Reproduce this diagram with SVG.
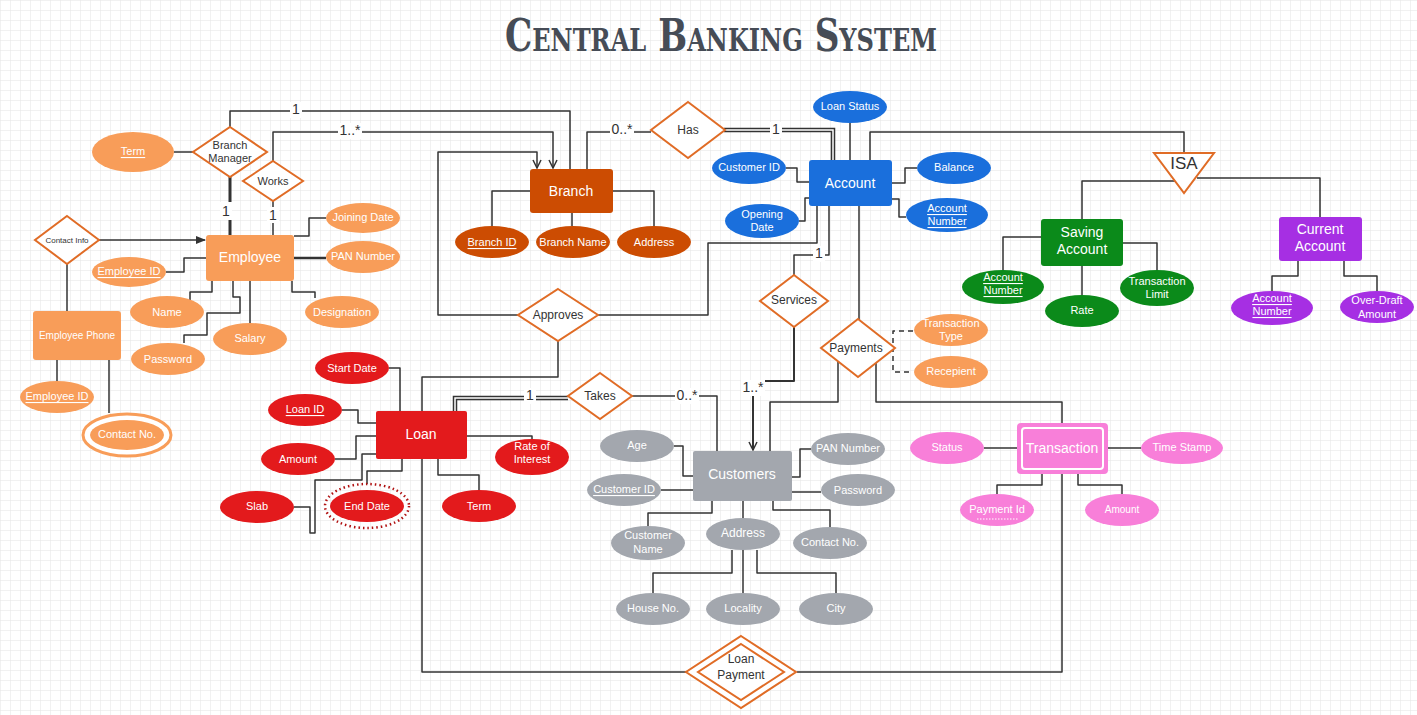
<svg xmlns="http://www.w3.org/2000/svg" width="1417" height="715" viewBox="0 0 1417 715">
<style>
.ln{fill:none;stroke:#333;stroke-width:1.5;stroke-linejoin:round}
.dbl{fill:none;stroke:#333;stroke-width:4.5}
.dbw{fill:none;stroke:#fff;stroke-width:1.5}
.rel{fill:#fff;stroke:#e06c26;stroke-width:2}
text{font-family:"Liberation Sans",Arial,sans-serif;text-anchor:middle;dominant-baseline:central}
.et{fill:#fff;font-size:14px}
.at{fill:#fff;font-size:11px}
.rt{fill:#333;font-size:12px}
.lb{fill:#333;font-size:14px}
.u{text-decoration:underline}
.emp{fill:#f89d59}
.br{fill:#cc4c02}
.ac{fill:#1a6fdc}
.sv{fill:#0b8a1a}
.cu{fill:#a62fe3}
.lo{fill:#e31a1c}
.cs{fill:#a3a7ae}
.tr{fill:#f87fd9}
.bg{fill:#fff}
</style>
<defs>
<pattern id="grid" width="10" height="10" patternUnits="userSpaceOnUse">
<path d="M10 0H0V10" fill="none" stroke="#e3e3e3" stroke-width="1"/>
</pattern>
<marker id="arr" viewBox="0 0 10 10" refX="9" refY="5" markerWidth="10" markerHeight="10" markerUnits="userSpaceOnUse" orient="auto">
<path d="M1,1 L9,5 L1,9" fill="none" stroke="#333" stroke-width="1.5"/>
</marker>
<marker id="arrf" viewBox="0 0 10 10" refX="9" refY="5" markerWidth="10" markerHeight="10" markerUnits="userSpaceOnUse" orient="auto">
<path d="M0,1 L10,5 L0,9 Z" fill="#333"/>
</marker>
</defs>
<rect width="1417" height="715" fill="#fff"/>
<rect width="1417" height="715" fill="url(#grid)"/>

<text x="721" y="35" style="font-family:'DejaVu Serif',serif;font-weight:bold;font-size:44px;font-variant:small-caps;fill:#464c56" textLength="432" lengthAdjust="spacingAndGlyphs">Central Banking System</text>

<g id="connectors">
<path class="ln" d="M174,152 H193"/>
<path class="ln" d="M230,127 V111 H570 V169"/>
<path class="ln" d="M273,161 V132 H553 V168" marker-end="url(#arr)"/>
<path class="ln" d="M518,315 H438 V152 H537 V168" marker-end="url(#arr)"/>
<path class="ln" d="M230,176 V235" style="stroke-width:3"/>
<path class="ln" d="M273,201 V235"/>
<path class="ln" d="M99,240 H205" marker-end="url(#arrf)"/>
<path class="ln" d="M67,264 V311"/>
<path class="ln" d="M166,272 H184 V258 H206"/>
<path class="ln" d="M294,236 H309 V218 H326"/>
<path class="ln" d="M294,258 H326" style="stroke-width:2.5"/>
<path class="ln" d="M190,300 V292 H212 V281"/>
<path class="ln" d="M250,323 V281"/>
<path class="ln" d="M184,343 V335 H207 V313 H240 V297 H233 V281"/>
<path class="ln" d="M292,281 V292 H315 V298"/>
<path class="ln" d="M57,360 V381"/>
<path class="ln" d="M109,360 V413"/>
<path class="ln" d="M530,191 H492 V226"/>
<path class="ln" d="M572,213 V226"/>
<path class="ln" d="M613,191 H654 V226"/>
<path class="ln" d="M587,169 V132 H651"/>
<path class="dbl" d="M724,130 H833 V160"/>
<path class="dbw" d="M724,130 H833 V160"/>
<path class="ln" d="M850,123 V160"/>
<path class="ln" d="M786,168 H797 V182 H809"/>
<path class="ln" d="M799,221 H805 V198 H809"/>
<path class="ln" d="M892,183 H905 V168 H917"/>
<path class="ln" d="M892,199 H899 V217 H906"/>
<path class="ln" d="M870,160 V132 H1184 V153"/>
<path class="ln" d="M1177,181 H1082 V219"/>
<path class="ln" d="M1197,178 H1320 V217"/>
<path class="ln" d="M1041,237 H1003 V270"/>
<path class="ln" d="M1082,266 V295"/>
<path class="ln" d="M1123,243 H1157 V270"/>
<path class="ln" d="M1298,261 V276 H1272 V291"/>
<path class="ln" d="M1344,261 V276 H1377 V291"/>
<path class="ln" d="M794,275 V255 H829 V206"/>
<path class="ln" d="M794,327 V381 H753 V450" marker-end="url(#arr)" style="stroke-width:2"/>
<path class="ln" d="M598,315 H708 V243 H817 V206"/>
<path class="ln" d="M558,341 V377 H422 V411"/>
<path class="ln" d="M422,459 V672 H686"/>
<path class="ln" d="M797,672 H1062 V474"/>
<path class="ln" d="M389,368 H400 V411"/>
<path class="ln" d="M342,410 H358 V423 H376"/>
<path class="ln" d="M335,459 H356 V436 H376"/>
<path class="ln" d="M294,507 H310 V533 H315 V480 H362 V454 H376"/>
<path class="ln" d="M402,459 V471 H367 V484"/>
<path class="ln" d="M438,459 V475 H479 V490"/>
<path class="ln" d="M467,436 H532 V439"/>
<path class="dbl" d="M455,411 V398 H568"/>
<path class="dbw" d="M455,411 V398 H568"/>
<path class="ln" d="M632,396 H717 V451"/>
<path class="ln" d="M674,446 H683 V476 H693"/>
<path class="ln" d="M661,490 H693"/>
<path class="ln" d="M712,501 V513 H648 V526"/>
<path class="ln" d="M743,501 V518"/>
<path class="ln" d="M773,501 V510 H830 V527"/>
<path class="ln" d="M792,477 H800 V449 H811"/>
<path class="ln" d="M792,492 H821"/>
<path class="ln" d="M732,550 V573 H653 V593"/>
<path class="ln" d="M743,550 V593"/>
<path class="ln" d="M757,550 V573 H836 V593"/>
<path class="ln" d="M859,320 V206"/>
<path class="ln" d="M838,361 V402 H770 V451"/>
<path class="ln" d="M876,363 V402 H1062 V423"/>
<path class="ln" d="M913,331 H893 V372 H913" style="stroke-dasharray:5,4"/>
<path class="ln" d="M984,448 H1017"/>
<path class="ln" d="M1108,448 H1141"/>
<path class="ln" d="M1042,474 V485 H997 V494"/>
<path class="ln" d="M1078,474 V485 H1122 V494"/>
<rect class="bg" x="290" y="102" width="12" height="16"/><text class="lb" x="296" y="109">1</text>
<rect class="bg" x="338" y="123" width="24" height="16"/><text class="lb" x="350" y="130">1..*</text>
<rect class="bg" x="220" y="202" width="12" height="18"/><text class="lb" x="226" y="211">1</text>
<rect class="bg" x="267" y="207" width="12" height="16"/><text class="lb" x="273" y="215">1</text>
<rect class="bg" x="610" y="122" width="24" height="16"/><text class="lb" x="622" y="129">0..*</text>
<rect class="bg" x="770" y="122" width="12" height="16"/><text class="lb" x="776" y="129">1</text>
<rect class="bg" x="813" y="246" width="12" height="16"/><text class="lb" x="819" y="253">1</text>
<rect class="bg" x="741" y="380" width="24" height="16"/><text class="lb" x="753" y="387">1..*</text>
<rect class="bg" x="524" y="388" width="12" height="16"/><text class="lb" x="530" y="395">1</text>
<rect class="bg" x="675" y="388" width="24" height="16"/><text class="lb" x="687" y="395">0..*</text>
</g>

<g id="employee"><rect class="emp" x="206" y="235" width="88" height="46" rx="3"/><text class="et" x="250" y="257">Employee</text></g>
<g id="employee-phone"><rect class="emp" x="33" y="311" width="88" height="49" rx="3"/><text class="et" x="77" y="335" style="font-size:10px">Employee Phone</text></g>
<g id="branch"><rect class="br" x="530" y="169" width="83" height="44" rx="3"/><text class="et" x="571" y="191">Branch</text></g>
<g id="account"><rect class="ac" x="809" y="160" width="83" height="46" rx="3"/><text class="et" x="850" y="183">Account</text></g>
<g id="saving-account"><rect class="sv" x="1041" y="219" width="82" height="47" rx="3"/><text class="et" x="1082" y="232">Saving</text><text class="et" x="1082" y="249">Account</text></g>
<g id="current-account"><rect class="cu" x="1279" y="217" width="83" height="44" rx="3"/><text class="et" x="1320" y="229">Current</text><text class="et" x="1320" y="246">Account</text></g>
<g id="loan"><rect class="lo" x="376" y="411" width="91" height="48" rx="2"/><text class="et" x="421" y="434">Loan</text></g>
<g id="customers"><rect class="cs" x="693" y="451" width="99" height="50" rx="2"/><text class="et" x="742" y="474">Customers</text></g>
<g id="transaction"><rect class="tr" x="1017" y="423" width="91" height="51" rx="4"/><rect class="tr" x="1022" y="428" width="81" height="41" rx="3" style="stroke:#fff;stroke-width:2"/><text class="et" x="1062" y="448">Transaction</text></g>

<g id="branch-manager"><polygon class="rel" points="230,127 267,152 230,177 193,152"/><text class="rt" x="230" y="145" style="font-size:11px">Branch</text><text class="rt" x="230" y="158" style="font-size:11px">Manager</text></g>
<g id="works"><polygon class="rel" points="273,161 303,181 273,201 243,181"/><text class="rt" x="273" y="181" style="font-size:11px">Works</text></g>
<g id="contact-info"><polygon class="rel" points="67,216 99,240 67,264 35,240"/><text class="rt" x="67" y="240" style="font-size:8px">Contact Info</text></g>
<g id="has"><polygon class="rel" points="688,102 725,130 688,158 651,130"/><text class="rt" x="688" y="130">Has</text></g>
<g id="approves"><polygon class="rel" points="558,289 598,315 558,341 518,315"/><text class="rt" x="558" y="315">Approves</text></g>
<g id="services"><polygon class="rel" points="794,275 828,301 794,327 760,301"/><text class="rt" x="794" y="300">Services</text></g>
<g id="payments"><polygon class="rel" points="858,319 895,348 858,377 821,348"/><text class="rt" x="856" y="348">Payments</text></g>
<g id="takes"><polygon class="rel" points="600,373 632,396 600,419 568,396"/><text class="rt" x="600" y="396">Takes</text></g>
<g id="loan-payment"><polygon class="rel" points="741,636 796,672 741,708 686,672"/><polygon class="rel" points="741,644 784,672 741,700 698,672"/><text class="rt" x="741" y="659">Loan</text><text class="rt" x="741" y="675">Payment</text></g>
<g id="isa"><polygon class="rel" points="1154,153 1214,153 1184,193"/><text class="rt" x="1184" y="163" style="font-size:17px">ISA</text></g>

<g id="attr-term"><ellipse class="emp" cx="133" cy="152" rx="41" ry="20"/><text class="at u" x="133" y="151">Term</text></g>
<g id="attr-employee-id"><ellipse class="emp" cx="129" cy="272" rx="37" ry="15"/><text class="at u" x="129" y="271">Employee ID</text></g>
<g id="attr-joining-date"><ellipse class="emp" cx="363" cy="218" rx="37" ry="15"/><text class="at" x="363" y="217">Joining Date</text></g>
<g id="attr-pan-number"><ellipse class="emp" cx="363" cy="257" rx="37" ry="16"/><text class="at" x="363" y="256">PAN Number</text></g>
<g id="attr-name"><ellipse class="emp" cx="167" cy="312" rx="37" ry="16"/><text class="at" x="167" y="312">Name</text></g>
<g id="attr-salary"><ellipse class="emp" cx="250" cy="339" rx="37" ry="16"/><text class="at" x="250" y="338">Salary</text></g>
<g id="attr-password"><ellipse class="emp" cx="168" cy="359" rx="37" ry="16"/><text class="at" x="168" y="359">Password</text></g>
<g id="attr-designation"><ellipse class="emp" cx="342" cy="312" rx="37" ry="16"/><text class="at" x="342" y="312">Designation</text></g>
<g id="attr-phone-employee-id"><ellipse class="emp" cx="57" cy="397" rx="37" ry="16"/><text class="at u" x="57" y="396">Employee ID</text></g>
<g id="attr-contact-no"><ellipse cx="127" cy="435" rx="44" ry="21" fill="#fff" stroke="#f89d59" stroke-width="3"/><ellipse class="emp" cx="127" cy="435" rx="37" ry="15"/><text class="at" x="127" y="434">Contact No.</text></g>

<g id="attr-branch-id"><ellipse class="br" cx="492" cy="242" rx="37" ry="16"/><text class="at u" x="492" y="242">Branch ID</text></g>
<g id="attr-branch-name"><ellipse class="br" cx="573" cy="242" rx="37" ry="16"/><text class="at" x="573" y="242">Branch Name</text></g>
<g id="attr-address"><ellipse class="br" cx="654" cy="242" rx="37" ry="16"/><text class="at" x="654" y="242">Address</text></g>

<g id="attr-loan-status"><ellipse class="ac" cx="850" cy="107" rx="37" ry="16"/><text class="at" x="850" y="106">Loan Status</text></g>
<g id="attr-customer-id"><ellipse class="ac" cx="749" cy="168" rx="37" ry="16"/><text class="at" x="749" y="167">Customer ID</text></g>
<g id="attr-opening-date"><ellipse class="ac" cx="762" cy="221" rx="37" ry="17"/><text class="at" x="762" y="214">Opening</text><text class="at" x="762" y="227">Date</text></g>
<g id="attr-balance"><ellipse class="ac" cx="954" cy="168" rx="37" ry="16"/><text class="at" x="954" y="167">Balance</text></g>
<g id="attr-account-number"><ellipse class="ac" cx="947" cy="215" rx="41" ry="17"/><text class="at u" x="947" y="208">Account</text><text class="at u" x="947" y="221">Number</text></g>

<g id="attr-saving-account-number"><ellipse class="sv" cx="1003" cy="287" rx="41" ry="17"/><text class="at u" x="1003" y="277">Account</text><text class="at u" x="1003" y="290">Number</text></g>
<g id="attr-rate"><ellipse class="sv" cx="1082" cy="311" rx="37" ry="16"/><text class="at" x="1082" y="310">Rate</text></g>
<g id="attr-transaction-limit"><ellipse class="sv" cx="1157" cy="288" rx="37" ry="18"/><text class="at" x="1157" y="281">Transaction</text><text class="at" x="1157" y="294">Limit</text></g>
<g id="attr-current-account-number"><ellipse class="cu" cx="1272" cy="308" rx="41" ry="17"/><text class="at u" x="1272" y="298">Account</text><text class="at u" x="1272" y="311">Number</text></g>
<g id="attr-overdraft-amount"><ellipse class="cu" cx="1377" cy="307" rx="37" ry="16"/><text class="at" x="1377" y="300">Over-Draft</text><text class="at" x="1377" y="314">Amount</text></g>

<g id="attr-start-date"><ellipse class="lo" cx="352" cy="368" rx="37" ry="16"/><text class="at" x="352" y="368">Start Date</text></g>
<g id="attr-loan-id"><ellipse class="lo" cx="305" cy="410" rx="37" ry="16"/><text class="at u" x="305" y="409">Loan ID</text></g>
<g id="attr-amount"><ellipse class="lo" cx="298" cy="459" rx="37" ry="16"/><text class="at" x="298" y="459">Amount</text></g>
<g id="attr-slab"><ellipse class="lo" cx="257" cy="507" rx="37" ry="16"/><text class="at" x="257" y="506">Slab</text></g>
<g id="attr-end-date"><ellipse cx="367" cy="506" rx="42" ry="22" fill="none" stroke="#b01010" stroke-width="2.5" stroke-dasharray="1.5,3"/><ellipse class="lo" cx="367" cy="506" rx="37" ry="16"/><text class="at" x="367" y="506">End Date</text></g>
<g id="attr-loan-term"><ellipse class="lo" cx="479" cy="506" rx="37" ry="16"/><text class="at" x="479" y="506">Term</text></g>
<g id="attr-rate-of-interest"><ellipse class="lo" cx="532" cy="457" rx="37" ry="18"/><text class="at" x="532" y="446">Rate of</text><text class="at" x="532" y="459">Interest</text></g>

<g id="attr-age"><ellipse class="cs" cx="637" cy="446" rx="37" ry="16"/><text class="at" x="637" y="445">Age</text></g>
<g id="attr-cust-customer-id"><ellipse class="cs" cx="624" cy="490" rx="37" ry="16"/><text class="at u" x="624" y="489">Customer ID</text></g>
<g id="attr-customer-name"><ellipse class="cs" cx="648" cy="543" rx="37" ry="17"/><text class="at" x="648" y="535">Customer</text><text class="at" x="648" y="549">Name</text></g>
<g id="attr-cust-address"><ellipse class="cs" cx="743" cy="534" rx="37" ry="16"/><text class="at" x="743" y="533" style="font-size:12px">Address</text></g>
<g id="attr-cust-contact-no"><ellipse class="cs" cx="830" cy="543" rx="37" ry="16"/><text class="at" x="830" y="542">Contact No.</text></g>
<g id="attr-cust-pan-number"><ellipse class="cs" cx="848" cy="449" rx="37" ry="16"/><text class="at" x="848" y="448">PAN Number</text></g>
<g id="attr-cust-password"><ellipse class="cs" cx="858" cy="490" rx="37" ry="16"/><text class="at" x="858" y="490">Password</text></g>
<g id="attr-house-no"><ellipse class="cs" cx="653" cy="609" rx="37" ry="16"/><text class="at" x="653" y="608">House No.</text></g>
<g id="attr-locality"><ellipse class="cs" cx="743" cy="609" rx="37" ry="16"/><text class="at" x="743" y="608">Locality</text></g>
<g id="attr-city"><ellipse class="cs" cx="836" cy="609" rx="37" ry="16"/><text class="at" x="836" y="608">City</text></g>

<g id="attr-transaction-type"><ellipse class="emp" cx="951" cy="330" rx="37" ry="16"/><text class="at" x="951" y="323">Transaction</text><text class="at" x="951" y="336">Type</text></g>
<g id="attr-recepient"><ellipse class="emp" cx="951" cy="372" rx="37" ry="16"/><text class="at" x="951" y="371">Recepient</text></g>

<g id="attr-status"><ellipse class="tr" cx="947" cy="448" rx="37" ry="16"/><text class="at" x="947" y="447">Status</text></g>
<g id="attr-time-stamp"><ellipse class="tr" cx="1182" cy="448" rx="41" ry="16"/><text class="at" x="1182" y="447">Time Stamp</text></g>
<g id="attr-payment-id"><ellipse class="tr" cx="997" cy="510" rx="37" ry="16"/><text class="at" x="997" y="509">Payment Id</text><line x1="977" y1="519" x2="1018" y2="519" stroke="#fff" stroke-width="1" stroke-dasharray="1.5,1.5"/></g>
<g id="attr-tr-amount"><ellipse class="tr" cx="1122" cy="510" rx="37" ry="16"/><text class="at" x="1122" y="509" style="font-size:10px">Amount</text></g>
</svg>
